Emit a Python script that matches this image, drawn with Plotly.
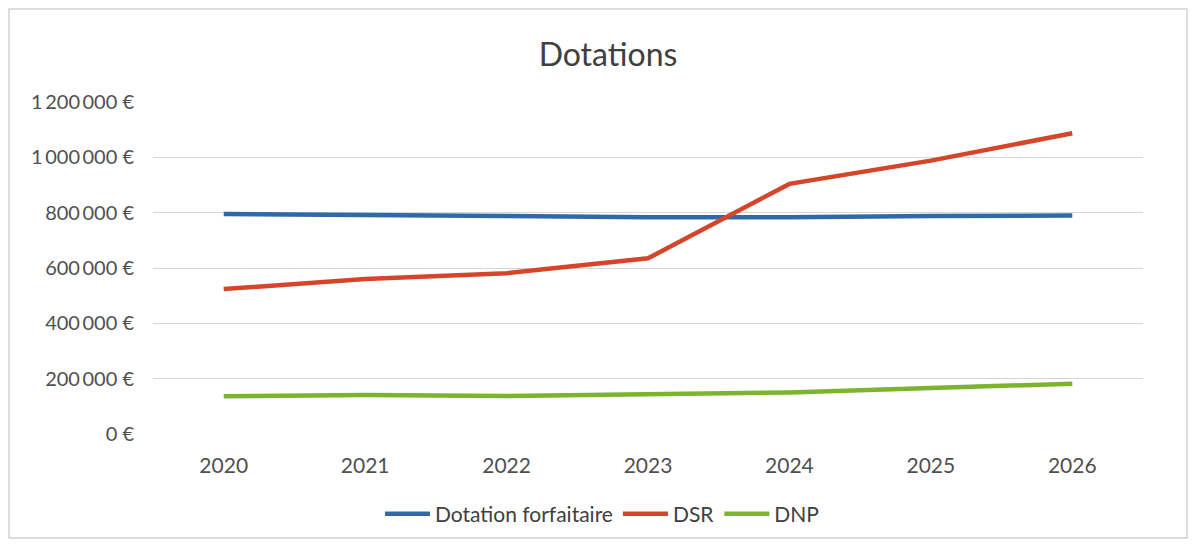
import plotly.graph_objects as go

years = ["2020", "2021", "2022", "2023", "2024", "2025", "2026"]
dotation_forfaitaire = [795000, 793000, 788000, 783000, 783000, 788000, 790000]
dsr = [524000, 560000, 581000, 635000, 904000, 988000, 1087000]
dnp = [136000, 141000, 137000, 144000, 150000, 166000, 182000]
y_ticks = [0, 200000, 400000, 600000, 800000, 1000000, 1200000]
y_ticktext = ["{:,}".format(v).replace(",", "\u2009") + "\u00a0€" for v in y_ticks]

series = [
    ("Dotation forfaitaire", dotation_forfaitaire, "#2e6aaa"),
    ("DSR", dsr, "#d4452a"),
    ("DNP", dnp, "#7db42e"),
]

fig = go.Figure()
for name, vals, col in series:
    fig.add_trace(go.Scatter(x=years, y=vals, name=name, mode="lines",
                             line=dict(color=col, width=4.5)))

W, H = 1180, 531
L, R, T, B = 145, 45, 94, 105
pw, ph = W - L - R, H - T - B

font_family = "Lato, 'Open Sans', sans-serif"
fig.update_layout(
    width=W, height=H,
    margin=dict(l=L, r=R, t=T, b=B, autoexpand=False),
    paper_bgcolor="white", plot_bgcolor="white",
    title=dict(text="Dotations", x=600 / W, xanchor="center", xref="container",
               y=1 - 47 / H, yref="container", yanchor="middle",
               font=dict(family=font_family, size=32, color="#404040")),
    font=dict(family=font_family, size=18, color="#595959"),
    showlegend=True,
    legend=dict(orientation="h", x=(594 - L) / pw, xanchor="center",
                y=-80 / ph, yanchor="middle", itemwidth=45,
                font=dict(size=21, color="#404040")),
    xaxis=dict(type="category", range=[-0.5, 6.5], showgrid=False, showline=False,
               zeroline=False, ticks="outside", ticklen=13, tickcolor="rgba(0,0,0,0)",
               automargin=False, tickfont=dict(size=21, color="#505050")),
    yaxis=dict(range=[0, 1200000], tickmode="array", tickvals=y_ticks, ticktext=y_ticktext,
               showgrid=True, gridcolor="#d6d6d6", gridwidth=1, zeroline=False,
               showline=False, ticks="outside", ticklen=14, tickcolor="rgba(0,0,0,0)",
               automargin=False, tickfont=dict(size=20, color="#505050")),
    shapes=[dict(type="rect", xref="paper", yref="paper",
                 x0=(-L + 1) / pw, x1=(W - L - 1) / pw,
                 y0=-(B - 1) / ph, y1=1 + (T - 1) / ph,
                 line=dict(color="#d4d4d4", width=1.5))],
)

fig.write_html("out.html")
